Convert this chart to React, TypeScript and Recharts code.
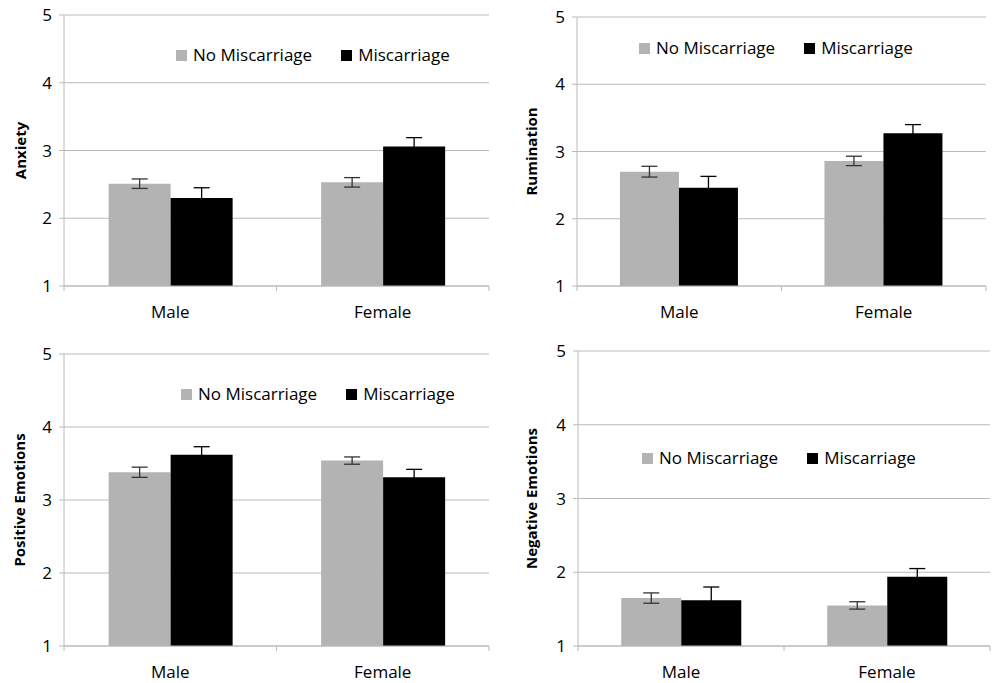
import { Bar, BarChart, CartesianGrid, ErrorBar, Legend, XAxis, YAxis } from "recharts";

const groups = ["Male", "Female"];
const seriesNames = ["No Miscarriage", "Miscarriage"];
const yTicks = [1, 2, 3, 4, 5];

const anxietyNo = [2.51, 2.53];
const anxietyNoErr = [0.07, 0.07];
const anxietyMis = [2.3, 3.06];
const anxietyMisErr = [0.15, 0.13];

const ruminationNo = [2.7, 2.86];
const ruminationNoErr = [0.08, 0.07];
const ruminationMis = [2.46, 3.27];
const ruminationMisErr = [0.17, 0.13];

const positiveNo = [3.38, 3.54];
const positiveNoErr = [0.07, 0.05];
const positiveMis = [3.62, 3.31];
const positiveMisErr = [0.11, 0.11];

const negativeNo = [1.65, 1.55];
const negativeNoErr = [0.07, 0.05];
const negativeMis = [1.62, 1.94];
const negativeMisErr = [0.18, 0.11];

const GRID = "#bababa";
const GRAY = "#b3b3b3";

function buildRows(no: number[], noErr: number[], mis: number[], misErr: number[]) {
  return groups.map((group, i) => ({
    group,
    no: no[i],
    noErr: noErr[i],
    mis: mis[i],
    misErr: misErr[i],
  }));
}

const panels = [
  {
    title: "Anxiety",
    rows: buildRows(anxietyNo, anxietyNoErr, anxietyMis, anxietyMisErr),
    left: 0, top: 0, width: 496, height: 330,
    yWidth: 64, marginTop: 15, marginRight: 7, xHeight: 44,
    labelX: 21, legendLeft: 176, legendTop: 44,
  },
  {
    title: "Rumination",
    rows: buildRows(ruminationNo, ruminationNoErr, ruminationMis, ruminationMisErr),
    left: 496, top: 0, width: 496, height: 330,
    yWidth: 81, marginTop: 17, marginRight: 6, xHeight: 44,
    labelX: 36, legendLeft: 143, legendTop: 37,
  },
  {
    title: "Positive Emotions",
    rows: buildRows(positiveNo, positiveNoErr, positiveMis, positiveMisErr),
    left: 0, top: 330, width: 496, height: 353,
    yWidth: 64, marginTop: 24, marginRight: 7, xHeight: 37,
    labelX: 20, legendLeft: 181, legendTop: 53,
  },
  {
    title: "Negative Emotions",
    rows: buildRows(negativeNo, negativeNoErr, negativeMis, negativeMisErr),
    left: 496, top: 330, width: 496, height: 353,
    yWidth: 82, marginTop: 21, marginRight: 2, xHeight: 37,
    labelX: 36, legendLeft: 146, legendTop: 117,
  },
];

function GroupTick(props: any) {
  const { x, y, payload, index, half } = props;
  return (
    <g>
      <line x1={x - half} x2={x - half} y1={y} y2={y + 5} stroke={GRID} />
      {index === groups.length - 1 && (
        <line x1={x + half} x2={x + half} y1={y} y2={y + 5} stroke={GRID} />
      )}
      <text x={x} y={y + 32} textAnchor="middle" fontSize={17} fill="#000">
        {payload.value}
      </text>
    </g>
  );
}

function renderLegend(props: any) {
  // keep the series order, not the alphabetical one
  const items = [...props.payload].sort(
    (a: any, b: any) => seriesNames.indexOf(a.value) - seriesNames.indexOf(b.value)
  );
  return (
    <div style={{ display: "flex", alignItems: "center", fontSize: 17, lineHeight: "22px", color: "#000" }}>
      {items.map((entry: any, i: number) => (
        <div key={entry.value} style={{ display: "flex", alignItems: "center", marginRight: i === 0 ? 29 : 0 }}>
          <span style={{ display: "inline-block", width: 11, height: 11, background: entry.color, marginRight: 6 }} />
          <span style={{ whiteSpace: "nowrap" }}>{entry.value}</span>
        </div>
      ))}
    </div>
  );
}

function Panel({ p }: { p: (typeof panels)[number] }) {
  const half = (p.width - p.yWidth - p.marginRight) / 4;
  return (
    <div style={{ position: "absolute", left: p.left, top: p.top }}>
      <BarChart
        width={p.width}
        height={p.height}
        data={p.rows}
        margin={{ top: p.marginTop, right: p.marginRight, bottom: 0, left: 0 }}
        barCategoryGap="21%"
        barGap={0}
      >
        <CartesianGrid vertical={false} stroke={GRID} />
        <XAxis
          dataKey="group"
          height={p.xHeight}
          axisLine={{ stroke: GRID }}
          tickLine={false}
          tickSize={0}
          tickMargin={0}
          interval={0}
          tick={(t: any) => <GroupTick {...t} half={half} />}
        />
        <YAxis
          width={p.yWidth}
          domain={[1, 5]}
          ticks={yTicks}
          interval={0}
          axisLine={{ stroke: GRID }}
          tickLine={{ stroke: GRID }}
          tickSize={5}
          tickMargin={7}
          tick={{ fontSize: 17, fill: "#000" }}
          label={{
            value: p.title,
            angle: -90,
            position: "insideLeft",
            offset: p.labelX,
            style: { textAnchor: "middle", fontSize: 15, fontWeight: 700, fill: "#000" },
          }}
        />
        <Legend
          layout="horizontal"
          verticalAlign="middle"
          align="center"
          content={renderLegend}
          wrapperStyle={{ left: p.legendLeft, top: p.legendTop, width: "auto" }}
        />
        <Bar dataKey="no" name={seriesNames[0]} fill={GRAY} isAnimationActive={false}>
          <ErrorBar dataKey="noErr" width={8} stroke="#333" strokeWidth={1.3} />
        </Bar>
        <Bar dataKey="mis" name={seriesNames[1]} fill="#000" isAnimationActive={false}>
          <ErrorBar dataKey="misErr" width={8} stroke="#000" strokeWidth={1.3} />
        </Bar>
      </BarChart>
    </div>
  );
}

export default function App() {
  return (
    <div
      style={{
        position: "absolute",
        left: 0,
        top: 0,
        width: 992,
        height: 683,
        background: "#fff",
        fontFamily: "'Open Sans', sans-serif",
        overflow: "hidden",
      }}
    >
      {panels.map((p) => (
        <Panel key={p.title} p={p} />
      ))}
    </div>
  );
}
